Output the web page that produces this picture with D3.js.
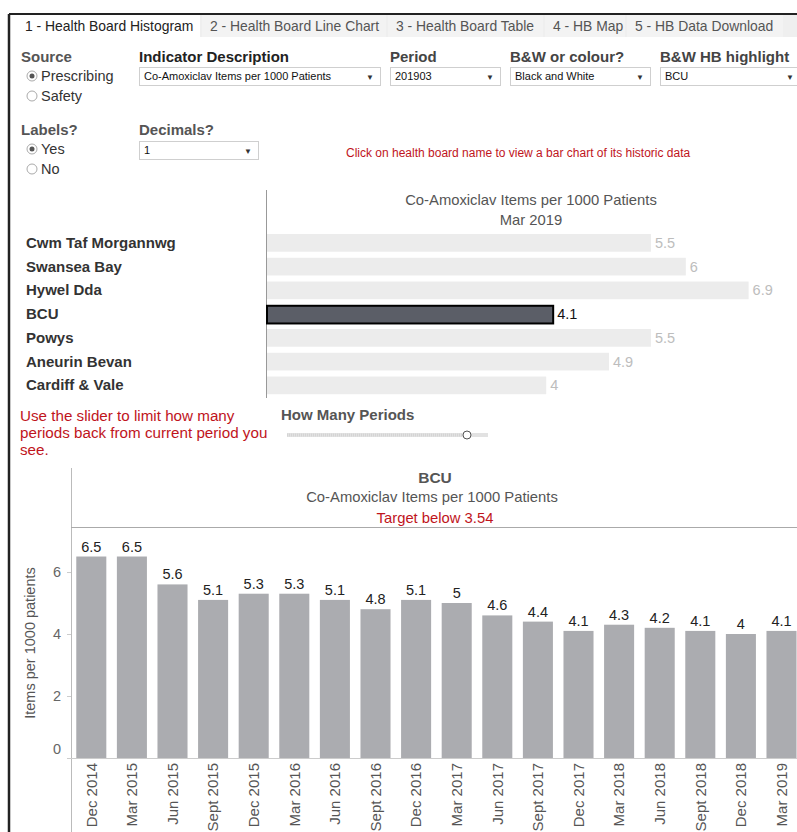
<!DOCTYPE html>
<html>
<head>
<meta charset="utf-8">
<script src="https://cdn.jsdelivr.net/npm/d3@7"></script>
<style>
  html, body { margin: 0; padding: 0; background: #fff; overflow: hidden; }
  svg { display: block; font-family: Arial, "Liberation Sans", sans-serif; }
</style>
</head>
<body>
<svg id="dash" width="797" height="832"></svg>
<script>
// tabs and controls
const tabs = ["1 - Health Board Histogram", "2 - Health Board Line Chart", "3 - Health Board Table", "4 - HB Map", "5 - HB Data Download"];
const tabEdges = [10, 202, 388, 545, 627, 785];

// histogram (current period)
const boards = ["Cwm Taf Morgannwg", "Swansea Bay", "Hywel Dda", "BCU", "Powys", "Aneurin Bevan", "Cardiff & Vale"];
const boardValues = [5.5, 6, 6.9, 4.1, 5.5, 4.9, 4];
const highlight = "BCU";

// history for the highlighted board
const periods = ["Dec 2014", "Mar 2015", "Jun 2015", "Sept 2015", "Dec 2015", "Mar 2016", "Jun 2016", "Sept 2016", "Dec 2016",
  "Mar 2017", "Jun 2017", "Sept 2017", "Dec 2017", "Mar 2018", "Jun 2018", "Sept 2018", "Dec 2018", "Mar 2019"];
const bcuValues = [6.5, 6.5, 5.6, 5.1, 5.3, 5.3, 5.1, 4.8, 5.1, 5, 4.6, 4.4, 4.1, 4.3, 4.2, 4.1, 4, 4.1];
const yTicks = [0, 2, 4, 6];

const svg = d3.select("#dash");
const red = "#c0141c";

// ---- frame + tabs
svg.append("rect").attr("x", 10).attr("y", 15).attr("width", 787).attr("height", 22).attr("fill", "#efefef");
tabs.forEach((t, i) => {
  const x0 = tabEdges[i], x1 = tabEdges[i + 1] - 2;
  svg.append("rect").attr("x", x0).attr("y", 15).attr("width", x1 - x0).attr("height", 22)
    .attr("fill", i === 0 ? "#fff" : "#f3f3f3");
  svg.append("text").attr("x", x0 + (i === 0 ? 15 : 8)).attr("y", 31).attr("font-size", 13.9)
    .attr("fill", i === 0 ? "#222" : "#555").text(t);
});
svg.append("line").attr("x1", 9).attr("x2", 797).attr("y1", 14).attr("y2", 14).attr("stroke", "#222").attr("stroke-width", 2);
svg.append("line").attr("x1", 9).attr("x2", 9).attr("y1", 14).attr("y2", 832).attr("stroke", "#222").attr("stroke-width", 2.5);

// ---- controls
function label(x, y, t, col) {
  svg.append("text").attr("x", x).attr("y", y).attr("font-size", 15).attr("font-weight", "bold")
    .attr("fill", col || "#333").text(t);
}
function radio(x, y, t, on) {
  svg.append("circle").attr("cx", x).attr("cy", y).attr("r", 5).attr("fill", "#fff").attr("stroke", "#aaa");
  if (on) svg.append("circle").attr("cx", x).attr("cy", y).attr("r", 2.5).attr("fill", "#555");
  svg.append("text").attr("x", x + 9).attr("y", y + 5).attr("font-size", 14.5).attr("fill", "#333").text(t);
}
function dropdown(x, y, w, t, arrowAt) {
  svg.append("rect").attr("x", x + 0.5).attr("y", y + 0.5).attr("width", w).attr("height", 18)
    .attr("fill", "#fff").attr("stroke", "#cfcfcf");
  svg.append("text").attr("x", x + 5).attr("y", y + 13).attr("font-size", 11).attr("fill", "#111").text(t);
  svg.append("text").attr("x", x + (arrowAt || w - 10)).attr("y", y + 13).attr("font-size", 8).attr("text-anchor", "middle")
    .attr("fill", "#333").text("▼");
}
label(21, 62, "Source", "#555");
radio(32, 76, "Prescribing", true);
radio(32, 96, "Safety", false);
label(139, 62, "Indicator Description", "#222");
dropdown(139, 67, 241, "Co-Amoxiclav Items per 1000 Patients");
label(390, 62, "Period", "#444");
dropdown(390, 67, 110, "201903");
label(510, 62, "B&W or colour?", "#444");
dropdown(510, 67, 140, "Black and White");
label(660, 62, "B&W HB highlight", "#444");
dropdown(660, 67, 145, "BCU", 130);
label(21, 135, "Labels?", "#555");
radio(32, 149, "Yes", true);
radio(32, 169, "No", false);
label(139, 135, "Decimals?", "#555");
dropdown(139, 141, 119, "1");
svg.append("text").attr("x", 346).attr("y", 157).attr("font-size", 12).attr("fill", red)
  .text("Click on health board name to view a bar chart of its historic data");

// ---- histogram
const hx = d3.scaleLinear().domain([0, 7.5]).range([267, 267 + 7.5 * 69.8]);
const hy = d3.scaleBand().domain(boards).range([231, 397.25]).paddingInner(0.255).paddingOuter(0.1275);
svg.append("line").attr("x1", 266.5).attr("x2", 266.5).attr("y1", 190).attr("y2", 398).attr("stroke", "#999");
svg.append("text").attr("x", 531).attr("y", 205).attr("text-anchor", "middle").attr("font-size", 14.8).attr("fill", "#555")
  .text("Co-Amoxiclav Items per 1000 Patients");
svg.append("text").attr("x", 531).attr("y", 225).attr("text-anchor", "middle").attr("font-size", 14.8).attr("fill", "#555")
  .text("Mar 2019");
const rows = svg.append("g").selectAll("g").data(boards).enter().append("g");
rows.append("text").attr("x", 26).attr("y", d => hy(d) + hy.bandwidth() / 2 + 5)
  .attr("font-size", 15).attr("font-weight", "bold").attr("fill", "#333").text(d => d);
rows.append("rect")
  .attr("x", hx(0))
  .attr("y", d => hy(d) + (d === highlight ? 0.5 : 0))
  .attr("width", (d, i) => hx(boardValues[i]) - hx(0))
  .attr("height", hy.bandwidth())
  .attr("fill", d => d === highlight ? "#5b5e67" : "#ececec")
  .attr("stroke", d => d === highlight ? "#000" : "none")
  .attr("stroke-width", 2);
rows.append("text")
  .attr("x", (d, i) => hx(boardValues[i]) + 4)
  .attr("y", d => hy(d) + hy.bandwidth() / 2 + 5)
  .attr("font-size", 14.5)
  .attr("fill", d => d === highlight ? "#111" : "#bdbdbd")
  .text((d, i) => boardValues[i]);

// ---- slider
const slider = ["Use the slider to limit how many", "periods back from current period you", "see."];
slider.forEach((t, i) => {
  svg.append("text").attr("x", 20).attr("y", 421 + i * 17).attr("font-size", 15.2).attr("fill", red).text(t);
});
label(281, 420, "How Many Periods", "#555");
svg.append("line").attr("x1", 287).attr("x2", 488).attr("y1", 435).attr("y2", 435).attr("stroke", "#e2e2e2").attr("stroke-width", 4);
svg.append("line").attr("x1", 287).attr("x2", 466).attr("y1", 435).attr("y2", 435).attr("stroke", "#d4d4d4")
  .attr("stroke-width", 3).attr("stroke-dasharray", "1,1");
svg.append("circle").attr("cx", 467).attr("cy", 435).attr("r", 4).attr("fill", "#fff").attr("stroke", "#555");

// ---- history bar chart
const bx = d3.scaleBand().domain(periods).range([71, 71 + 18 * 40.6]).paddingInner(0.26).paddingOuter(0.13);
const by = d3.scaleLinear().domain([0, 7.42]).range([758, 528]);

svg.append("line").attr("x1", 71.5).attr("x2", 71.5).attr("y1", 468).attr("y2", 832).attr("stroke", "#bbb");
svg.append("line").attr("x1", 71).attr("x2", 797).attr("y1", 527.5).attr("y2", 527.5).attr("stroke", "#aaa");
svg.append("text").attr("x", 435).attr("y", 483).attr("text-anchor", "middle").attr("font-size", 15.5)
  .attr("font-weight", "bold").attr("fill", "#555").text(highlight);
svg.append("text").attr("x", 432).attr("y", 502).attr("text-anchor", "middle").attr("font-size", 14.8)
  .attr("fill", "#555").text("Co-Amoxiclav Items per 1000 Patients");
svg.append("text").attr("x", 435).attr("y", 523).attr("text-anchor", "middle").attr("font-size", 14.8)
  .attr("fill", red).text("Target below 3.54");

const yAxis = svg.append("g").attr("transform", "translate(71,0)")
  .call(d3.axisLeft(by).tickValues(yTicks).tickSize(4).tickPadding(6).tickFormat(d3.format("d")));
yAxis.select(".domain").remove();
yAxis.selectAll("line").attr("stroke", "#ccc");
yAxis.selectAll("text").attr("font-size", 14.5).attr("fill", "#666").attr("font-family", null)
  .attr("dy", d => d === 0 ? "-0.32em" : "0.32em");
svg.append("text").attr("transform", "translate(35,643) rotate(-90)").attr("text-anchor", "middle")
  .attr("font-size", 14.5).attr("fill", "#555").text("Items per 1000 patients");

svg.append("g").selectAll("rect").data(periods).enter().append("rect")
  .attr("x", d => bx(d)).attr("width", bx.bandwidth())
  .attr("y", (d, i) => by(bcuValues[i])).attr("height", (d, i) => by(0) - by(bcuValues[i]))
  .attr("fill", "#abacb0");
svg.append("g").selectAll("text").data(periods).enter().append("text")
  .attr("x", d => bx(d) + bx.bandwidth() / 2).attr("y", (d, i) => by(bcuValues[i]) - 5)
  .attr("text-anchor", "middle").attr("font-size", 14.5).attr("fill", "#222")
  .text((d, i) => bcuValues[i]);

svg.append("line").attr("x1", 71).attr("x2", 797).attr("y1", 758.5).attr("y2", 758.5).attr("stroke", "#ccc");
const xAxis = svg.append("g").attr("transform", "translate(0,758)").call(d3.axisBottom(bx).tickSize(0));
xAxis.select(".domain").remove();
xAxis.selectAll("text").attr("font-size", 15).attr("fill", "#555").attr("font-family", null)
  .attr("transform", "rotate(-90)").attr("text-anchor", "end")
  .attr("x", -5).attr("y", 0).attr("dy", "0.35em");
</script>
</body>
</html>
